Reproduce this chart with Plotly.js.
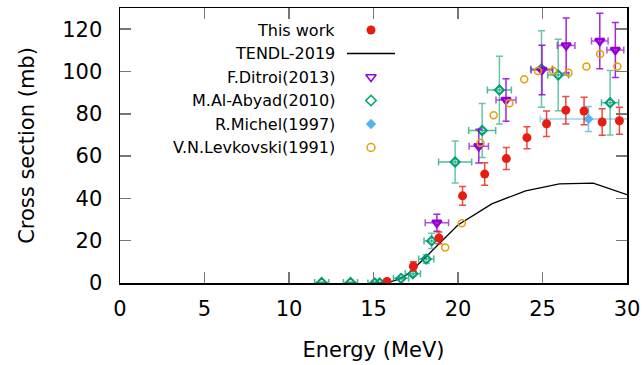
<!DOCTYPE html>
<html>
<head>
<meta charset="utf-8">
<script src="https://cdn.plot.ly/plotly-3.0.1.min.js"></script>
<style>html,body{margin:0;padding:0;background:#fff;}#chart{width:644px;height:365px;}</style>
</head>
<body>
<div id="chart"></div>
<script>
// ---- data ----
const thisE   = [15.8, 17.36, 18.87, 20.27, 21.58, 22.86, 24.08, 25.24, 26.38, 27.46, 28.53, 29.55];
const thisS   = [0.7, 7.9, 21.3, 41.2, 51.5, 58.8, 68.7, 75.3, 81.7, 81.3, 76.1, 76.7];
const thisErr = [0.4, 2.2, 2.8, 4.4, 5.3, 5.2, 5.2, 6.0, 6.5, 6.5, 6.3, 6.4];

const tendlE = [15, 15.5, 16, 16.5, 17, 18, 19, 20, 22, 24, 26, 28, 30];
const tendlS = [0, 0, 0.5, 1.8, 4, 11.5, 19.5, 27.4, 37.4, 43.6, 46.9, 47.2, 41.8];

const ditroiE  = [18.75, 21.23, 22.84, 24.97, 26.40, 28.39, 29.31];
const ditroiS  = [28.5, 64.7, 86.5, 100.7, 112.3, 114.4, 110.2];
const ditroiDS = [4, 8, 10, 11.7, 13, 13.1, 13];
const ditroiDE = [0.69, 0.57, 0.59, 0.64, 0.52, 0.49, 0.5];

const abyadE  = [11.93, 13.64, 15.07, 15.37, 16.63, 17.33, 18.12, 18.44, 19.83, 21.43, 22.45, 24.94, 25.93, 29.0];
const abyadS  = [0.2, 0.2, 0, 0, 2.2, 4.4, 11.3, 19.9, 57.2, 72.1, 91.2, 101.2, 98.3, 85.2];
const abyadDS = [0.2, 0.2, 0.2, 0.2, 0.5, 1, 2, 3.6, 9.9, 12.8, 16, 18.1, 16.9, 15.2];
const abyadDE = [0.42, 0.42, 0.4, 0.4, 0.45, 0.45, 0.45, 0.45, 0.98, 0.8, 0.71, 0.64, 0.62, 0.51];

const michelE  = [27.72];
const michelS  = [77.5];
const michelDS = [5.9];
const michelDE = [2.85];

const levkE = [19.24, 20.23, 21.33, 22.11, 23.04, 23.92, 24.73, 25.63, 26.54, 27.6, 28.41, 29.43];
const levkS = [16.8, 28.2, 66.3, 79.3, 85, 96.3, 100.2, 100.2, 99.4, 102.3, 108.3, 102.3];

const legendNames = ["This work", "TENDL-2019", "F.Ditroi(2013)", "M.Al-Abyad(2010)", "R.Michel(1997)", "V.N.Levkovski(1991)"];

const xTicks = [0, 5, 10, 15, 20, 25, 30];
const yTicks = [0, 20, 40, 60, 80, 100, 120];

// ---- styles ----
const RED = '#e51e10', PURPLE = '#9400d3', GREEN = '#009e73', BLUE = '#56b4e9', ORANGE = '#e69f00';
function eb(arr, col) { return {type:'data', array: arr, visible: true, color: col, thickness: 1.5, width: 3.5}; }

const traces = [
  {x: tendlE, y: tendlS, mode: 'lines', line: {color: '#000', width: 1.3}, hoverinfo: 'skip'},
  {x: michelE, y: michelS, mode: 'markers', marker: {symbol: 'diamond', size: 8, color: BLUE},
   error_y: eb(michelDS, 'rgba(86,180,233,0.8)'), error_x: eb(michelDE, 'rgba(86,180,233,0.6)')},
  {x: abyadE, y: abyadS, mode: 'markers', marker: {symbol: 'diamond-open', size: 7, color: GREEN, line: {width: 2, color: GREEN}},
   error_y: eb(abyadDS, 'rgba(0,158,115,0.6)'), error_x: eb(abyadDE, 'rgba(0,158,115,0.7)')},
  {x: ditroiE, y: ditroiS, mode: 'markers', marker: {symbol: 'triangle-down-open', size: 8, color: PURPLE, line: {width: 2.5, color: PURPLE}},
   error_y: eb(ditroiDS, 'rgba(148,0,211,0.85)'), error_x: eb(ditroiDE, 'rgba(148,0,211,0.7)')},
  {x: levkE, y: levkS, mode: 'markers', marker: {symbol: 'circle-open', size: 7, color: ORANGE, line: {width: 1.5, color: ORANGE}}},
  {x: thisE, y: thisS, mode: 'markers', marker: {symbol: 'circle', size: 9, color: RED},
   error_y: eb(thisErr, 'rgba(229,30,16,0.8)')}
];

// ---- legend keys on an overlay axis in page pixel units ----
const keyX = 371, textX = 337;
const rowY = [30, 53.5, 77, 100.5, 124, 147.5];
traces.push({x: [keyX], y: [rowY[0]], xaxis: 'x2', yaxis: 'y2', mode: 'markers', marker: {symbol: 'circle', size: 9, color: RED}, hoverinfo: 'skip'});
traces.push({x: [keyX - 24, keyX + 24], y: [rowY[1], rowY[1]], xaxis: 'x2', yaxis: 'y2', mode: 'lines', line: {color: '#000', width: 1.3}, hoverinfo: 'skip'});
traces.push({x: [keyX], y: [rowY[2]], xaxis: 'x2', yaxis: 'y2', mode: 'markers', marker: {symbol: 'triangle-down-open', size: 9, color: PURPLE, line: {width: 1.5, color: PURPLE}}, hoverinfo: 'skip'});
traces.push({x: [keyX], y: [rowY[3]], xaxis: 'x2', yaxis: 'y2', mode: 'markers', marker: {symbol: 'diamond-open', size: 8, color: GREEN, line: {width: 1.5, color: GREEN}}, hoverinfo: 'skip'});
traces.push({x: [keyX], y: [rowY[4]], xaxis: 'x2', yaxis: 'y2', mode: 'markers', marker: {symbol: 'diamond', size: 8, color: BLUE}, hoverinfo: 'skip'});
traces.push({x: [keyX], y: [rowY[5]], xaxis: 'x2', yaxis: 'y2', mode: 'markers', marker: {symbol: 'circle-open', size: 8, color: ORANGE, line: {width: 1.5, color: ORANGE}}, hoverinfo: 'skip'});

const annotations = legendNames.map((t, i) => ({
  text: t, x: textX, y: rowY[i], xref: 'x2', yref: 'y2', xanchor: 'right', yanchor: 'middle',
  showarrow: false, font: {family: 'DejaVu Sans', size: 16, color: '#000'}
}));

const FONT = {family: 'DejaVu Sans', size: 21, color: '#000'};
const layout = {
  width: 644, height: 365,
  margin: {l: 120, r: 17, t: 8, b: 82},
  paper_bgcolor: '#fff', plot_bgcolor: '#fff',
  showlegend: false,
  font: FONT,
  xaxis: {
    range: [0, 30], tickvals: xTicks, ticktext: xTicks.map(String),
    ticks: 'inside', ticklen: 11, tickwidth: 1.5, tickcolor: '#777',
    showline: true, linecolor: '#000', linewidth: 1.5, mirror: 'allticks',
    showgrid: false, zeroline: false, tickfont: FONT, ticklabelstandoff: 6,
    title: {text: 'Energy (MeV)', font: FONT, standoff: 22}
  },
  yaxis: {
    range: [0, 130], tickvals: yTicks, ticktext: yTicks.map(String),
    ticks: 'inside', ticklen: 11, tickwidth: 1.5, tickcolor: '#777',
    showline: true, linecolor: '#000', linewidth: 1.5, mirror: 'allticks',
    showgrid: false, zeroline: false, tickfont: FONT, ticklabelstandoff: 12,
    title: {text: 'Cross section (mb)', font: FONT, standoff: 22}
  },
  xaxis2: {overlaying: 'x', range: [120, 627], visible: false, fixedrange: true},
  yaxis2: {overlaying: 'y', range: [283, 8], visible: false, fixedrange: true},
  annotations: annotations
};

Plotly.newPlot('chart', traces, layout, {staticPlot: true});
</script>
</body>
</html>
